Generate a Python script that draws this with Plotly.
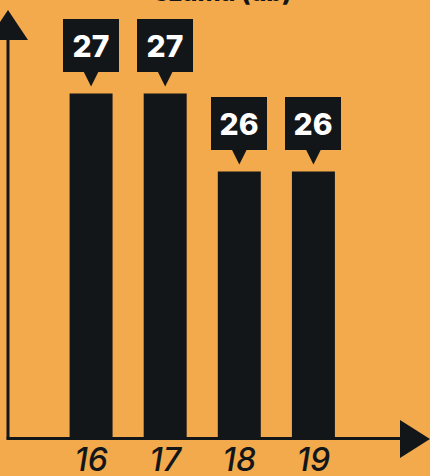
import plotly.graph_objects as go

categories = ["16", "17", "18", "19"]
values = [27, 27, 26, 26]
title_text = "száma (db)"

BG = "#F2AA4C"
DARK = "#131619"

W, H = 430, 476
ML, MR, MT, MB = 8, 0, 10, 38
PW, PH = W - ML - MR, H - MT - MB

def px(x):
    return (x - ML) / PW

def py(y):
    return (H - MB - y) / PH

fig = go.Figure()
fig.add_trace(go.Bar(
    x=categories, y=values, marker=dict(color=DARK, line=dict(width=0)),
    width=0.58, hoverinfo="skip",
))

for i, v in enumerate(values):
    fig.add_annotation(
        x=i, y=v, xref="x", yref="y", text=str(v),
        showarrow=True, ax=0, ay=-48, arrowhead=2, arrowsize=4.2, arrowwidth=1,
        arrowcolor=DARK, standoff=7,
        bgcolor=DARK, width=56, height=53, borderpad=0, borderwidth=0,
        font=dict(family="Inter", size=30, color="white", weight=800),
    )

fig.add_annotation(
    x=0.51, y=py(9), xref="paper", yref="paper", text=title_text, showarrow=False,
    xanchor="center", yanchor="bottom",
    font=dict(family="Inter", size=25, color=DARK, weight=800),
)

shapes = [
    dict(type="line", x0=px(8), x1=px(8), y0=py(40), y1=py(438.5),
         line=dict(color=DARK, width=3)),
    dict(type="path", path=f"M {px(8)},{py(10)} L {px(-12)},{py(40)} L {px(28)},{py(40)} Z",
         fillcolor=DARK, line=dict(width=0)),
    dict(type="line", x0=px(6.5), x1=px(402), y0=py(438.5), y1=py(438.5),
         line=dict(color=DARK, width=3)),
    dict(type="path", path=f"M {px(400)},{py(420)} L {px(400)},{py(458)} L {px(430)},{py(439)} Z",
         fillcolor=DARK, line=dict(width=0)),
]
for s in shapes:
    s.update(xref="paper", yref="paper", layer="above")

fig.update_layout(
    width=W, height=H, margin=dict(l=ML, r=MR, t=MT, b=MB, autoexpand=False),
    paper_bgcolor=BG, plot_bgcolor=BG, showlegend=False,
    shapes=shapes,
    xaxis=dict(type="category", range=[-1.121, 4.573], showgrid=False, zeroline=False,
               showline=False, ticks="", ticklen=0, ticklabelstandoff=0, automargin=False,
               tickfont=dict(family="Inter", size=32, color=DARK, style="italic", weight=500)),
    yaxis=dict(range=[22.58, 28.07], showgrid=False, zeroline=False, showline=False,
               showticklabels=False, ticks="", automargin=False),
)

fig.write_html("out.html", config={"displayModeBar": False},
               post_script="document.body.style.margin='0';")
